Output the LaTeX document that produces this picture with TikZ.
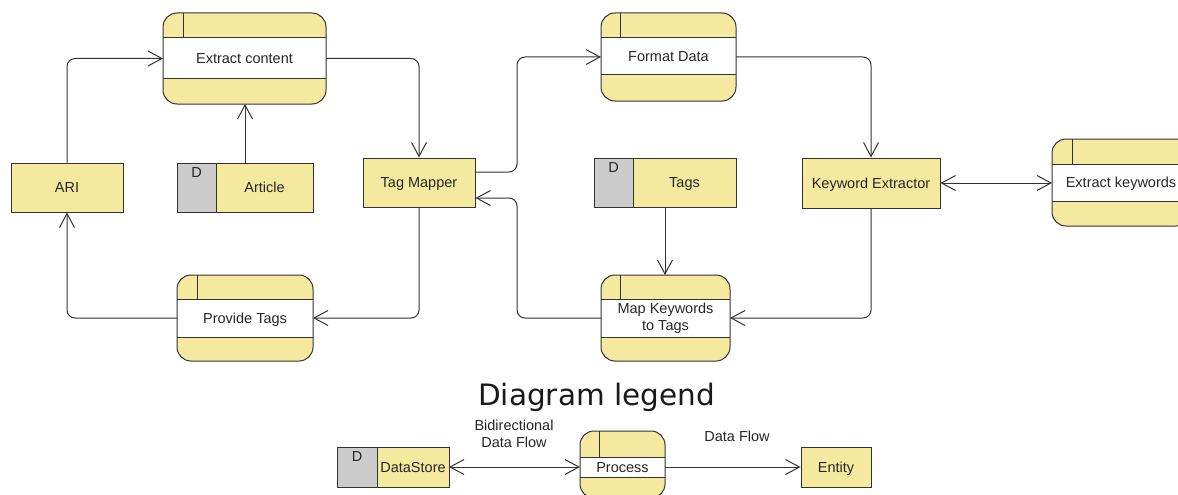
\documentclass[tikz,border=0pt]{standalone}
\usepackage{fontspec}
\setmainfont{Liberation Sans}
\newfontfamily\titlefont{DejaVu Sans}
\usetikzlibrary{arrows.meta,fit}
\definecolor{boxyellow}{HTML}{F5E9A0}
\definecolor{storegray}{HTML}{CCCCCC}
\definecolor{ink}{HTML}{333333}
\tikzset{
  outline/.style={draw=ink, line width=1pt},
  lbl/.style={font=\fontsize{14.5}{17}\selectfont, text=black!85, align=center, inner sep=0},
  capline/.style={text height=10.4pt, text depth=0pt},
  hull/.style={inner sep=0, outer sep=0, draw=none},
  entity/.style={lbl, capline, rectangle, fill=boxyellow, outline},
  barb/.tip={Straight Barb[length=14pt,width=15pt]},
  flow/.style={draw=ink, line width=1pt, rounded corners=8pt, -barb},
  biflow/.style={flow, barb-barb},
}
% process: name, x1, y1, x2, y2, band top, band bottom, divider x, label style;
% the label text follows the call, closed by a semicolon
\newcommand{\procbox}[9]{%
  \fill[boxyellow, rounded corners=14pt] (#2,#3) rectangle (#4,#5);
  \fill[white] (#2,#6) rectangle (#4,#7);
  \draw[outline] (#2,#6) -- (#4,#6) (#2,#7) -- (#4,#7) (#8,#3) -- (#8,#6);
  \draw[outline, rounded corners=14pt] (#2,#3) rectangle (#4,#5);
  \node[hull, fit={(#2,#3) (#4,#5)}] (#1) {};
  \node[lbl, #9] at ({(#2+#4)/2},{(#6+#7)/2})}
% data store: name, x1, y1, x2, y2, split x, text
\newcommand{\storebox}[7]{%
  \fill[boxyellow] (#6,#3) rectangle (#4,#5);
  \fill[storegray] (#2,#3) rectangle (#6,#5);
  \draw[outline] (#2,#3) rectangle (#4,#5) (#6,#3) -- (#6,#5);
  \node[hull, fit={(#2,#3) (#4,#5)}] (#1) {};
  \node[lbl, capline, anchor=north] at ({(#2+#6)/2},{#3+4}) {D};
  \node[lbl, capline] at ({(#6+#4)/2},{(#3+#5)/2}) {#7};
}
\begin{document}
\begin{tikzpicture}[x=1pt, y=-1pt]
\fill[white] (0,0) rectangle (1178,495);
\useasboundingbox (0,0) rectangle (1178,495);

% entities
\node[entity, minimum width=112pt, minimum height=49pt] (ari) at (67,187.5) {ARI};
\node[entity, minimum width=112pt, minimum height=49pt] (tagmap) at (419,182.5) {Tag Mapper};
\node[entity, minimum width=138pt, minimum height=50pt] (kwx) at (871,183) {Keyword Extractor};

% processes
\procbox{extract}{163}{13}{326}{104}{38}{79}{183}{capline} {Extract content};
\procbox{provide}{177}{275}{313}{361}{299}{337}{197}{capline} {Provide Tags};
\procbox{format}{601}{13}{736}{101}{38}{75}{620}{capline} {Format Data};
\procbox{mapkw}{601}{275}{730}{361}{299}{337}{620}{} {Map Keywords\\to Tags};
\procbox{extkw}{1052}{139}{1190}{226}{164}{201}{1072}{capline} {Extract keywords};

% data stores
\storebox{article}{177}{163}{313}{212}{216}{Article}
\storebox{tags}{594}{158}{736}{207}{633}{Tags}

% data flows
\coordinate (split) at (517,0);
\coordinate (tmout) at ([yshift=10.5pt]tagmap.east);
\coordinate (tmin) at ([yshift=-15.5pt]tagmap.east);
\draw[flow] (ari.north) |- (extract.west);
\draw[flow] (article.north) -- (article.north |- extract.south);
\draw[flow] (extract.east) -| (tagmap.north);
\draw[flow] (tagmap.south) |- (provide.east);
\draw[flow] (provide.west) -| (ari.south);
\draw[flow] (tmout) -| (split |- format.west) -- (format.west);
\draw[flow] (mapkw.west) -| (split |- tmin) -- (tmin);
\draw[flow] (format.east) -| (kwx.north);
\draw[flow] (tags.south) -- (tags.south |- mapkw.north);
\draw[flow] (kwx.south) |- (mapkw.east);
\draw[biflow] (kwx.east) -- (kwx.east -| extkw.west);

% legend
\node[font=\titlefont\fontsize{29.5}{32}\selectfont, text=black!90, inner sep=0, anchor=base] (title) at (596.5,405) {Diagram legend};
\storebox{dstore}{337}{447}{449}{487}{377}{DataStore}
\procbox{proc}{580}{431}{665}{498}{457}{477}{599}{capline} {Process};
\node[entity, minimum width=70pt, minimum height=40pt] (ent) at (836,467) {Entity};
\draw[biflow] (dstore.east) -- (dstore.east -| proc.west);
\draw[flow] (dstore.east -| proc.east) -- (dstore.east -| ent.west);
\node[lbl] (bilbl) at (514,434) {Bidirectional\\Data Flow};
\node[lbl, capline] (flowlbl) at (737,436) {Data Flow};
\end{tikzpicture}
\end{document}
